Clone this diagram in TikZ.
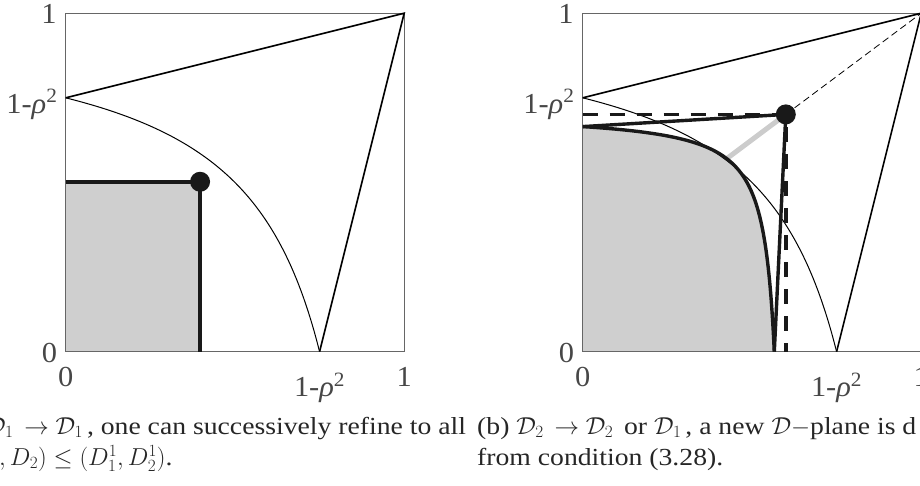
\RequirePackage{fix-cm}
\documentclass[tikz,border=0pt]{standalone}
\usepackage{fontspec}
\setmainfont{Liberation Serif}
\newfontfamily\wfont[FakeStretch=1.13]{Liberation Serif}
\newfontfamily\lfont[FakeStretch=1.05]{Liberation Serif}
\tikzset{
  frame/.style={draw=black!60, line width=0.9pt},
  tri/.style={draw=black, line width=1.6pt},
  hyp/.style={draw=black, line width=1.0pt},
  boldline/.style={draw=black!90, line width=3.8pt},
  bolddash/.style={draw=black!90, line width=3.8pt, dash pattern=on 15pt off 12pt},
  thindash/.style={draw=black, line width=0.8pt, dash pattern=on 7pt off 4pt},
  greyline/.style={draw=black!20, line width=5pt},
  shaded/.style={fill=black!19},
  dotfill/.style={fill=black!90},
  lbl/.style={inner sep=0pt, text=black!72, font=\lfont\fontsize{29}{34}\selectfont},
  captext/.style={inner sep=0pt, anchor=base west, text=black!85, font=\wfont\fontsize{24.5}{29}\selectfont}
}
\newcommand{\onerho}{1-\textit{ρ}\textsuperscript{2}}
\begin{document}
\begin{tikzpicture}
\useasboundingbox (0pt,0pt) rectangle (920pt,485pt);
\clip (0pt,0pt) rectangle (920pt,485pt);
% ---------------- left panel ----------------
\begin{scope}[shift={(65.7pt,133.3pt)}, x=338.5pt, y=338.5pt]
  \coordinate (L-O) at (0,0);
  \coordinate (L-A) at (0,0.75);
  \coordinate (L-B) at (0.75,0);
  \coordinate (L-C) at (1,1);
  \coordinate (L-P) at (0.397,0.502);
  \coordinate (L-Px) at (0.397,0);
  \coordinate (L-Py) at (0,0.502);
  \fill[shaded] (L-O) rectangle (L-P);
  \draw[frame] (0,0) rectangle (1,1);
  \draw[tri] (L-A) -- (L-C) -- (L-B);
  \draw[hyp] plot[domain=0.6931:-0.6931, samples=90] ({1-0.5*exp(\x)}, {1-0.5*exp(-\x)});
  \draw[boldline] (L-Py) -- (L-P) -- (L-Px);
  \fill[dotfill] (L-P) circle (10pt);
  \node[lbl, anchor=base east, xshift=-9pt, yshift=-10pt] (L-y1) at (0,1) {1};
  \node[lbl, anchor=base east, xshift=-8pt, yshift=-15.5pt] (L-yr) at (0,0.75) {\onerho};
  \node[lbl, anchor=base east, xshift=-8.5pt, yshift=-11pt] (L-y0) at (0,0) {0};
  \node[lbl, anchor=base, yshift=-34.5pt] (L-x0) at (0,0) {0};
  \node[lbl, anchor=base, yshift=-45pt] (L-xr) at (0.75,0) {\onerho};
  \node[lbl, anchor=base, yshift=-34.5pt] (L-x1) at (1,0) {1};
\end{scope}
% ---------------- right panel ----------------
\begin{scope}[shift={(582.7pt,133.3pt)}, x=338.5pt, y=338.5pt]
  \coordinate (R-O) at (0,0);
  \coordinate (R-A) at (0,0.75);
  \coordinate (R-B) at (0.75,0);
  \coordinate (R-C) at (1,1);
  \coordinate (R-P) at (0.600,0.701);
  \coordinate (R-Px) at (0.600,0);
  \coordinate (R-Py) at (0,0.701);
  \coordinate (R-Q) at (0,0.665);
  \coordinate (R-S) at (0.566,0);
  \coordinate (R-T) at (0.425,0.570);
  \fill[shaded] (R-O) -- (R-S) -- plot[domain=-1.532:1.371, samples=120] ({0.5988-0.152*exp(\x)}, {0.7036-0.152*exp(-\x)}) -- cycle;
  \draw[frame] (0,0) rectangle (1,1);
  \draw[tri] (R-A) -- (R-C) -- (R-B);
  \draw[hyp] plot[domain=0.6931:-0.6931, samples=90] ({1-0.5*exp(\x)}, {1-0.5*exp(-\x)});
  \draw[thindash] (R-P) -- (R-C);
  \draw[greyline] (R-P) -- (R-T);
  \draw[boldline, line width=3.4pt] plot[domain=-1.532:1.371, samples=120] ({0.5988-0.152*exp(\x)}, {0.7036-0.152*exp(-\x)});
  \draw[bolddash] (R-Py) -- (R-P) -- (R-Px);
  \draw[boldline, line width=3.4pt] (R-Q) -- (R-P) -- (R-S);
  \fill[dotfill] (R-P) circle (10pt);
  \node[lbl, anchor=base east, xshift=-9pt, yshift=-10pt] (R-y1) at (0,1) {1};
  \node[lbl, anchor=base east, xshift=-8pt, yshift=-15.5pt] (R-yr) at (0,0.75) {\onerho};
  \node[lbl, anchor=base east, xshift=-8.5pt, yshift=-11pt] (R-y0) at (0,0) {0};
  \node[lbl, anchor=base, yshift=-34.5pt] (R-x0) at (0,0) {0};
  \node[lbl, anchor=base, yshift=-45pt] (R-xr) at (0.75,0) {\onerho};
  \node[lbl, anchor=base, yshift=-34.5pt] (R-x1) at (1,0) {1};
\end{scope}
% ---------------- captions ----------------
\node[captext] (capA1) at (-14pt,51pt) {$\mathcal{D}_1\, \to \mathcal{D}_1\,$, one can successively refine to all};
\node[captext] (capA2) at (-1pt,20pt) {$, D_2) \le (D_1^1, D_2^1)$.};
\node[captext] (capB1) at (477pt,51pt) {(b) $\mathcal{D}_2\, \to \mathcal{D}_2\,$ or $\mathcal{D}_1\,$, a new $\mathcal{D}{-}$plane is d};
\node[captext] (capB2) at (477pt,20pt) {from condition (3.28).};
\end{tikzpicture}
\end{document}
